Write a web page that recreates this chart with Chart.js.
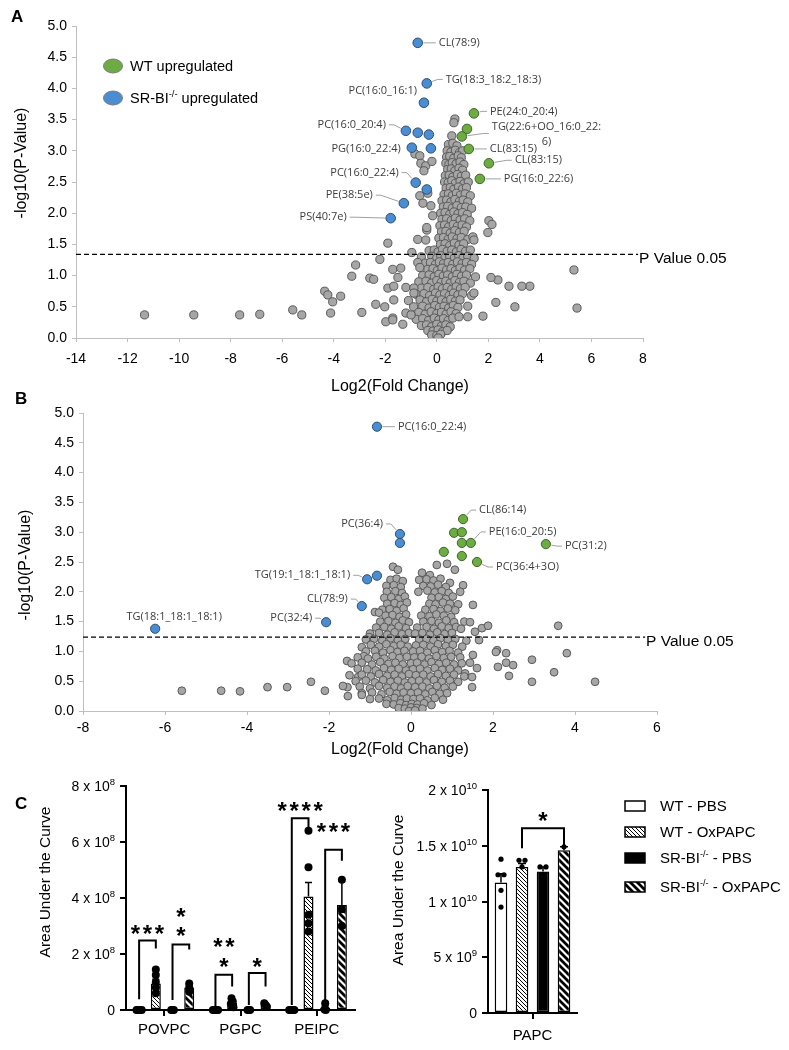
<!DOCTYPE html>
<html><head><meta charset="utf-8">
<script src="https://cdn.jsdelivr.net/npm/chart.js@4.4.1/dist/chart.umd.min.js"></script>
<style>
html,body{margin:0;padding:0;background:#fff;}
#wrap{position:relative;width:789px;height:1050px;overflow:hidden;background:#fff;}
#wrap canvas{position:absolute;left:0;top:0;}
</style></head><body>
<div id="wrap">
<canvas id="cA" width="789" height="1050"></canvas>
<canvas id="cB" width="789" height="1050"></canvas>
<canvas id="cC1" width="789" height="1050"></canvas>
<canvas id="cC2" width="789" height="1050"></canvas>
</div>
<script>
// ---------------- Panel A data ----------------
const aXTicks = [-14,-12,-10,-8,-6,-4,-2,0,2,4,6,8];
const aYTicks = [0,0.5,1,1.5,2,2.5,3,3.5,4,4.5,5];
const aThreshold = 1.34;
const aThresholdEnd = 7.81;
const aBlue = [[-0.74,4.73],[-0.39,4.08],[-0.5,3.77],[-1.2,3.32],[-0.74,3.29],[-0.31,3.26],[-0.97,3.05],[-0.23,3.04],[-0.82,2.49],[-0.39,2.38],[-1.28,2.16],[-1.79,1.92]];
const aGreen = [[1.44,3.6],[1.17,3.35],[0.97,3.23],[1.24,3.03],[2.02,2.8],[1.67,2.55]];
const aGray = [
[0.7,3.51],[0.66,3.45],[0.58,3.24],
[0.45,3.1],[0.62,3.12],[0.78,3.08],
[0.4,3.0],[0.55,2.98],[0.72,3.01],[0.88,2.97],[1.0,3.0],
[0.38,2.9],[0.5,2.91],[0.66,2.88],[0.83,2.92],[0.95,2.89],
[0.35,2.8],[0.47,2.78],[0.6,2.81],[0.75,2.79],[0.9,2.82],[1.05,2.78],
[0.42,2.7],[0.56,2.71],[0.7,2.68],[0.86,2.72],[1.0,2.69],
[0.33,2.6],[0.48,2.61],[0.62,2.58],[0.8,2.62],[0.95,2.59],[1.12,2.61],
[0.3,2.5],[0.44,2.49],[0.58,2.52],[0.72,2.48],[0.9,2.51],[1.05,2.47],[1.22,2.5],
[0.36,2.4],[0.52,2.41],[0.66,2.38],[0.84,2.42],[1.0,2.39],[1.15,2.41],
[0.28,2.3],[0.45,2.31],[0.6,2.28],[0.76,2.32],[0.92,2.29],[1.1,2.31],[1.3,2.28],
[0.2,2.2],[0.38,2.21],[0.55,2.18],[0.7,2.22],[0.88,2.19],[1.02,2.21],[1.2,2.18],
[0.25,2.1],[0.42,2.11],[0.6,2.08],[0.78,2.12],[0.95,2.09],[1.12,2.1],[1.35,2.08],
[0.15,2.0],[0.32,2.01],[0.5,1.98],[0.66,2.02],[0.82,1.99],[1.0,2.01],[1.18,1.98],
[0.2,1.9],[0.38,1.91],[0.56,1.88],[0.72,1.92],[0.9,1.89],[1.08,1.91],[1.28,1.88],
[0.12,1.8],[0.3,1.81],[0.46,1.78],[0.64,1.82],[0.8,1.79],[0.98,1.81],[1.15,1.78],
[0.18,1.7],[0.35,1.71],[0.52,1.68],[0.7,1.72],[0.88,1.69],[1.06,1.71],
[0.08,1.6],[0.26,1.61],[0.44,1.58],[0.6,1.62],[0.78,1.59],[0.95,1.61],[1.2,1.58],[1.4,1.62],
[0.14,1.5],[0.32,1.51],[0.5,1.48],[0.68,1.52],[0.86,1.49],[1.04,1.51],
[-0.3,1.4],[-0.1,1.41],[0.05,1.38],[0.22,1.42],[0.4,1.39],[0.58,1.41],[0.76,1.38],[0.94,1.42],[1.12,1.39],[1.3,1.41],
[-0.6,1.3],[-0.2,1.31],[0.0,1.28],[0.15,1.32],[0.32,1.29],[0.5,1.31],[0.68,1.28],[0.85,1.32],[1.02,1.29],[1.2,1.31],[1.45,1.28],
[-0.45,1.2],[-0.25,1.21],[-0.05,1.18],[0.1,1.22],[0.26,1.19],[0.44,1.21],[0.62,1.18],[0.8,1.22],[0.98,1.19],[1.15,1.21],[1.35,1.18],
[-0.35,1.1],[-0.15,1.11],[0.02,1.08],[0.2,1.12],[0.38,1.09],[0.55,1.11],[0.72,1.08],[0.9,1.12],[1.08,1.09],[1.28,1.11],
[-0.55,1.0],[-0.3,1.01],[-0.1,0.98],[0.08,1.02],[0.25,0.99],[0.42,1.01],[0.6,0.98],[0.78,1.02],[0.96,0.99],[1.15,1.01],[1.5,0.98],
[-0.7,0.9],[-0.42,0.91],[-0.2,0.88],[0.0,0.92],[0.17,0.89],[0.35,0.91],[0.52,0.88],[0.7,0.92],[0.88,0.89],[1.05,0.91],[1.3,0.88],
[-0.6,0.8],[-0.35,0.81],[-0.12,0.78],[0.05,0.82],[0.22,0.79],[0.4,0.81],[0.58,0.78],[0.75,0.82],[0.92,0.79],[1.1,0.81],
[-0.8,0.7],[-0.5,0.71],[-0.28,0.68],[-0.05,0.72],[0.12,0.69],[0.3,0.71],[0.48,0.68],[0.65,0.72],[0.82,0.69],[1.0,0.71],[1.35,0.68],
[-1.1,0.6],[-0.65,0.61],[-0.4,0.58],[-0.18,0.62],[0.0,0.59],[0.18,0.61],[0.36,0.58],[0.54,0.62],[0.72,0.59],[0.9,0.61],
[-0.9,0.5],[-0.55,0.51],[-0.3,0.48],[-0.08,0.52],[0.1,0.49],[0.28,0.51],[0.46,0.48],[0.64,0.52],[0.82,0.49],[1.2,0.51],
[-1.2,0.4],[-0.7,0.41],[-0.45,0.38],[-0.22,0.42],[0.0,0.39],[0.18,0.41],[0.36,0.38],[0.55,0.42],[0.75,0.39],
[-0.8,0.3],[-0.55,0.31],[-0.32,0.28],[-0.1,0.32],[0.08,0.29],[0.26,0.31],[0.44,0.28],[0.62,0.32],
[-0.6,0.2],[-0.4,0.21],[-0.2,0.18],[0.0,0.22],[0.18,0.19],[0.35,0.21],[0.52,0.18],
[-0.35,0.12],[-0.15,0.11],[0.05,0.13],[0.22,0.1],[0.4,0.12],
[-0.2,0.05],[0.0,0.04],[0.15,0.06],[0.05,0.0],
[-0.85,2.95],[-0.66,2.92],[-0.62,2.8],[-0.43,2.76],[-0.19,2.83],[-0.5,2.68],
[-0.35,2.32],[-0.66,2.28],[-0.54,2.16],[-0.23,2.12],[-0.16,1.96],[-0.39,1.73],[-0.97,1.37],[-0.74,1.58],[-0.39,1.77],[-0.43,1.57],
[-0.74,1.21],[-0.66,1.13],[-1.71,1.1],[-1.4,1.12],[-1.9,1.52],[-1.51,0.97],[-1.9,0.8],[-1.2,0.81],[-0.89,0.8],[-0.89,0.72],
[-1.0,0.37],[-1.32,0.22],[-1.71,0.32],[-2.02,0.5],[-1.98,0.26],
[-11.34,0.37],[-9.43,0.37],[-7.65,0.37],[-6.87,0.38],[-5.59,0.45],[-5.24,0.37],[-4.35,0.75],[-4.23,0.69],[-4.04,0.58],[-4.12,0.4],
[-3.73,0.67],[-3.3,0.99],[-3.15,1.17],[-2.91,0.41],[-2.6,0.96],[-2.45,0.94],[-2.37,0.54],[-2.21,1.26],[-1.67,0.83],[-1.71,0.29],[-1.67,0.61],
[5.32,1.09],[5.44,0.48],[3.03,0.5],[3.61,0.83],[3.3,0.83],[2.8,0.83],[2.37,0.93],[2.1,0.97],[2.29,0.57],[1.79,0.35],
[2.02,1.88],[2.14,1.82],[1.98,1.69],[1.44,1.57],[1.44,0.72],[1.2,0.34],[0.86,0.34]
];
const aLabels = [
 {t:'CL(78:9)', ds:0, i:0, dx:21, dy:0},
 {t:'TG(18:3_18:2_18:3)', ds:0, i:1, dx:19, dy:-4},
 {t:'PC(16:0_16:1)', ds:0, i:2, dx:-7, dy:-12, noLine:true},
 {t:'PC(16:0_20:4)', ds:0, i:3, dx:-20, dy:-6},
 {t:'PG(16:0_22:4)', ds:0, i:6, dx:-11, dy:1},
 {t:'PC(16:0_22:4)', ds:0, i:8, dx:-17, dy:-10},
 {t:'PE(38:5e)', ds:0, i:10, dx:-31, dy:-8},
 {t:'PS(40:7e)', ds:0, i:11, dx:-44, dy:-1},
 {t:'PE(24:0_20:4)', ds:1, i:0, dx:16, dy:-2},
 {t:'TG(22:6+OO_16:0_22:\n6)', ds:1, i:2, dx:30, dy:-10},
 {t:'CL(83:15)', ds:1, i:3, dx:21, dy:0},
 {t:'CL(83:15)', ds:1, i:4, dx:26, dy:-3},
 {t:'PG(16:0_22:6)', ds:1, i:5, dx:24, dy:0}
];
const aLegend = ['WT upregulated', 'SR-BI^{-/-} upregulated'];

// ---------------- Panel B data ----------------
const bXTicks = [-8,-6,-4,-2,0,2,4,6];
const bYTicks = [0,0.5,1,1.5,2,2.5,3,3.5,4,4.5,5];
const bThreshold = 1.24;
const bThresholdEnd = 5.71;
const bBlue = [[-0.83,4.77],[-0.27,2.97],[-0.27,2.82],[-0.83,2.27],[-1.07,2.21],[-1.2,1.76],[-2.07,1.49],[-6.24,1.38]];
const bGreen = [[1.27,3.22],[1.05,2.99],[1.24,3.0],[1.24,2.82],[1.46,2.82],[3.29,2.8],[0.8,2.67],[1.24,2.6],[1.61,2.5]];
const bGray = [
[-0.44,2.42],[-0.32,2.37],[0.27,2.32],[0.46,2.28],[0.63,2.45],[0.88,2.47],[1.07,2.37],
[-0.5,2.2],[-0.35,2.22],[-0.2,2.18],[0.2,2.2],[0.38,2.21],[0.55,2.19],[0.72,2.22],[0.95,2.15],
[-0.6,2.1],[-0.42,2.11],[-0.25,2.08],[0.3,2.1],[0.48,2.09],[0.66,2.12],[0.85,2.08],[1.27,2.11],
[-0.59,2.0],[-0.38,2.01],[-0.22,1.98],[0.18,2.0],[0.4,2.02],[0.58,1.99],[0.75,2.01],[0.92,1.98],[1.2,2.0],
[-0.65,1.9],[-0.48,1.91],[-0.3,1.88],[-0.15,1.92],[0.5,1.9],[0.68,1.91],[0.85,1.88],[1.02,1.92],
[-0.58,1.8],[-0.4,1.81],[-0.25,1.78],[-0.1,1.82],[0.45,1.8],[0.6,1.79],[0.78,1.82],[0.95,1.8],[1.15,1.79],[1.51,1.78],
[-0.7,1.7],[-0.52,1.71],[-0.35,1.68],[-0.18,1.72],[0.35,1.7],[0.55,1.71],[0.72,1.68],[0.9,1.72],[1.08,1.69],
[-0.88,1.66],[-0.78,1.65],
[-0.62,1.6],[-0.45,1.61],[-0.28,1.58],[-0.12,1.62],[0.25,1.6],[0.45,1.59],[0.62,1.62],[0.8,1.6],[0.98,1.58],
[-0.75,1.5],[-0.55,1.51],[-0.38,1.48],[-0.2,1.52],[-0.05,1.49],[0.3,1.5],[0.5,1.51],[0.68,1.48],[0.86,1.52],[1.05,1.49],[1.3,1.5],[1.44,1.49],
[-0.85,1.4],[-0.65,1.41],[-0.48,1.38],[-0.3,1.42],[-0.12,1.39],[0.15,1.4],[0.38,1.41],[0.56,1.38],[0.75,1.42],[0.92,1.39],[1.1,1.41],[1.22,1.38],[1.56,1.33],[1.73,1.39],[1.88,1.43],
[-1.0,1.3],[-0.78,1.31],[-0.58,1.28],[-0.4,1.32],[-0.22,1.29],[-0.05,1.31],[0.1,1.3],[0.28,1.31],[0.46,1.28],[0.64,1.32],[0.82,1.29],[1.0,1.31],
[-1.02,1.24],[-1.1,1.2],[-0.9,1.21],[-0.7,1.18],[-0.5,1.22],[-0.32,1.19],[-0.14,1.21],[0.2,1.2],[0.38,1.21],[0.55,1.18],[0.72,1.22],[0.9,1.19],[1.08,1.21],[1.35,1.18],[1.66,1.19],
[-1.2,1.07],[-0.98,1.11],[-0.78,1.08],[-0.6,1.12],[-0.42,1.09],[-0.25,1.11],[-0.08,1.08],[0.12,1.1],[0.3,1.11],[0.48,1.08],[0.66,1.12],[0.85,1.09],[1.02,1.11],[1.25,1.08],
[-1.1,1.0],[-0.88,1.01],[-0.68,0.98],[-0.5,1.02],[-0.33,0.99],[-0.16,1.01],[0.05,1.0],[0.22,1.01],[0.4,0.98],[0.58,1.02],[0.76,0.99],[0.94,1.01],[1.15,0.98],[2.1,1.02],[2.32,0.97],
[-1.15,0.92],[-1.3,0.9],[-1.05,0.88],[-0.85,0.91],[-0.65,0.88],[-0.45,0.92],[-0.28,0.89],[-0.1,0.91],[0.08,0.9],[0.26,0.91],[0.44,0.88],[0.62,0.92],[0.8,0.89],[0.98,0.91],[1.2,0.9],[1.51,0.94],
[-1.56,0.84],[-1.45,0.8],[-1.2,0.81],[-0.95,0.78],[-0.75,0.82],[-0.55,0.79],[-0.38,0.81],[-0.2,0.78],[0.0,0.8],[0.15,0.81],[0.33,0.78],[0.5,0.82],[0.68,0.79],[0.86,0.81],[1.05,0.78],[1.24,0.8],[1.44,0.81],
[-1.07,0.7],[-1.3,0.71],[-0.86,0.68],[-0.66,0.72],[-0.48,0.69],[-0.3,0.71],[-0.12,0.68],[0.05,0.7],[0.22,0.71],[0.4,0.68],[0.58,0.72],[0.76,0.69],[0.95,0.71],[1.15,0.68],[1.61,0.72],[1.32,0.63],
[-1.5,0.6],[-1.29,0.57],[-1.2,0.61],[-0.98,0.58],[-0.78,0.62],[-0.58,0.59],[-0.4,0.61],[-0.22,0.58],[-0.05,0.62],[0.12,0.6],[0.3,0.61],[0.48,0.58],[0.66,0.62],[0.85,0.59],[1.05,0.61],[1.3,0.58],[1.49,0.57],
[-1.35,0.5],[-1.1,0.51],[-0.88,0.48],[-0.68,0.52],[-0.5,0.49],[-0.32,0.51],[-0.15,0.48],[0.02,0.5],[0.2,0.51],[0.38,0.48],[0.56,0.52],[0.75,0.49],[0.95,0.51],[1.15,0.49],
[-1.55,0.4],[-1.25,0.41],[-1.0,0.38],[-0.78,0.42],[-0.58,0.39],[-0.4,0.41],[-0.24,0.38],[-0.08,0.42],[0.1,0.4],[0.28,0.41],[0.45,0.38],[0.63,0.42],[0.82,0.39],[1.02,0.41],[1.49,0.4],
[-1.2,0.3],[-0.95,0.31],[-0.72,0.28],[-0.52,0.32],[-0.35,0.29],[-0.18,0.31],[0.0,0.3],[0.17,0.31],[0.35,0.28],[0.52,0.32],[0.7,0.29],[0.88,0.3],[-1.2,0.27],
[-1.0,0.2],[-0.78,0.21],[-0.58,0.18],[-0.4,0.22],[-0.24,0.19],[-0.1,0.21],[0.06,0.2],[0.22,0.21],[0.4,0.18],[0.58,0.22],[0.78,0.19],
[-0.6,0.12],[-0.42,0.11],[-0.26,0.13],[-0.12,0.1],[0.02,0.12],[0.16,0.11],[0.32,0.13],[0.5,0.1],
[-0.3,0.05],[-0.15,0.04],[0.0,0.06],[0.14,0.05],[0.28,0.04],[-0.05,0.0],[0.1,0.01],
[-5.59,0.34],[-4.63,0.34],[-4.17,0.33],[-3.5,0.4],[-3.02,0.4],[-2.44,0.49],[-2.1,0.34],[-1.66,0.42],[-1.54,0.25],
[3.59,1.43],[3.8,0.97],[4.49,0.49],[3.49,0.65],[2.95,0.86],[2.95,0.49],[2.39,0.59],[2.32,0.81],[2.49,0.77],[2.12,0.74],[2.07,0.99]
];
const bLabels = [
 {t:'PC(16:0_22:4)', ds:0, i:0, dx:21, dy:0},
 {t:'PC(36:4)', ds:0, i:1, dx:-17, dy:-10},
 {t:'TG(19:1_18:1_18:1)', ds:0, i:4, dx:-17, dy:-4},
 {t:'CL(78:9)', ds:0, i:5, dx:-14, dy:-7},
 {t:'PC(32:4)', ds:0, i:6, dx:-14, dy:-4},
 {t:'TG(18:1_18:1_18:1)', ds:0, i:7, dx:19, dy:-12, align:'center', noLine:true},
 {t:'CL(86:14)', ds:1, i:0, dx:16, dy:-9},
 {t:'PE(16:0_20:5)', ds:1, i:4, dx:18, dy:-11},
 {t:'PC(31:2)', ds:1, i:5, dx:19, dy:2},
 {t:'PC(36:4+3O)', ds:1, i:8, dx:19, dy:5}
];

// ---------------- Panel C data ----------------
const cCats = ['POVPC','PGPC','PEIPC'];
const cGroups = ['WT - PBS','WT - OxPAPC','SR-BI^{-/-} - PBS','SR-BI^{-/-} - OxPAPC'];
const cYTicks = [0,2e8,4e8,6e8,8e8];
const cYTickLabels = ['0','2 x 10^{8}','4 x 10^{8}','6 x 10^{8}','8 x 10^{8}'];
const wtPbsMean = [0.005e8,0.005e8,0.005e8];
const wtOxMean  = [0.95e8,0.25e8,4.05e8];
const srPbsMean = [0.005e8,0.005e8,0.08e8];
const srOxMean  = [0.8e8,0.18e8,3.75e8];
const wtPbsSem = [0,0,0];
const wtOxSem  = [0.15e8,0.05e8,0.5e8];
const srPbsSem = [0,0,0.06e8];
const srOxSem  = [0.12e8,0.03e8,0.9e8];
const wtPbsDots = [[0,0,0,0,0],[0,0,0,0,0],[0,0,0,0,0]];
const wtOxDots  = [[1.45e8,1.25e8,1.0e8,0.8e8,0.6e8],[0.42e8,0.3e8,0.22e8,0.15e8,0.1e8],[6.4e8,5.1e8,3.4e8,3.1e8,2.8e8]];
const srPbsDots = [[0,0,0],[0,0,0],[0.24e8,0.02e8,0]];
const srOxDots  = [[0.95e8,0.8e8,0.65e8],[0.24e8,0.18e8,0.12e8],[4.65e8,3.6e8,3.0e8]];
const cBrackets = [
 {cat:0,a:0,b:1,top:2.48e8,aEnd:0.38e8,bEnd:2.2e8,stars:['***'],starY:[2.87e8]},
 {cat:0,a:2,b:3,top:2.34e8,aEnd:0.36e8,bEnd:2.16e8,stars:['*','*'],starY:[3.5e8,2.81e8]},
 {cat:1,a:0,b:1,top:1.26e8,aEnd:0.12e8,bEnd:0.84e8,stars:['**','*'],starY:[2.42e8,1.7e8]},
 {cat:1,a:2,b:3,top:1.32e8,aEnd:0.18e8,bEnd:0.84e8,stars:['*'],starY:[1.68e8]},
 {cat:2,a:0,b:1,top:6.85e8,aEnd:0.18e8,bEnd:6.53e8,stars:['****'],starY:[7.28e8]},
 {cat:2,a:2,b:3,top:5.72e8,aEnd:0.36e8,bEnd:5.33e8,stars:['***'],starY:[6.53e8]}
];
const papcCats = ['PAPC'];
const papcYTicks = [0,5e9,1e10,1.5e10,2e10];
const papcYTickLabels = ['0','5 x 10^{9}','1 x 10^{10}','1.5 x 10^{10}','2 x 10^{10}'];
const papcMean = [1.17e10,1.31e10,1.27e10,1.46e10];
const papcSem  = [0.08e10,0.03e10,0.04e10,0.03e10];
const papcDots = [[1.38e10,1.24e10,1.24e10,1.10e10,0.95e10],[1.37e10,1.37e10,1.31e10],[1.31e10,1.31e10],[1.49e10]];
const papcBrackets = [{cat:0,a:1,b:3,top:1.657e10,aEnd:1.478e10,bEnd:1.507e10,stars:['*'],starY:[1.76e10]}];

// ---------------- styling / helpers ----------------
const FONT = "'Liberation Sans', Arial, sans-serif";
const LBL = "'Open Sans', 'Liberation Sans', sans-serif";
const BLUE = '#4a8dd2', BLUE_B = '#2e4e70';
const GREEN = '#6dac42', GREEN_B = '#3d6427';
const GRAY = '#a6a6a6', GRAY_B = '#595959';
const W = 789, H = 1050;

function richParts(s){
  const parts=[]; const re=/\^\{([^}]*)\}/g; let last=0,m;
  while((m=re.exec(s))){ if(m.index>last) parts.push({t:s.slice(last,m.index),sup:false}); parts.push({t:m[1],sup:true}); last=re.lastIndex; }
  if(last<s.length) parts.push({t:s.slice(last),sup:false});
  return parts;
}
function drawRich(ctx,s,x,y,size,opts){
  opts=opts||{};
  const fam=opts.family||FONT, wt=opts.weight||'normal', align=opts.align||'left';
  const supSize=size*(opts.supRatio||0.65);
  const fN=wt+' '+size+'px '+fam, fS=wt+' '+supSize+'px '+fam;
  const parts=richParts(s); let w=0;
  parts.forEach(p=>{ctx.font=p.sup?fS:fN; p.w=ctx.measureText(p.t).width; w+=p.w;});
  let cx = align==='right'? x-w : align==='center'? x-w/2 : x;
  ctx.fillStyle=opts.color||'#000'; ctx.textAlign='left'; ctx.textBaseline='alphabetic';
  const base=y+size*0.36;
  parts.forEach(p=>{ctx.font=p.sup?fS:fN; ctx.fillText(p.t,cx,p.sup?base-size*0.42:base); cx+=p.w;});
}
function drawRotated(ctx,s,x,y,size){
  ctx.save(); ctx.translate(x,y); ctx.rotate(-Math.PI/2);
  drawRich(ctx,s,0,0,size,{align:'center'}); ctx.restore();
}
function makePattern(s,lw){
  const c=document.createElement('canvas'); c.width=s; c.height=s;
  const g=c.getContext('2d'); g.fillStyle='#fff'; g.fillRect(0,0,s,s);
  g.strokeStyle='#000'; g.lineWidth=lw; g.beginPath();
  for(let k=-1;k<=1;k++){ g.moveTo(k*s-1,-1); g.lineTo(k*s+s+1,s+1); }
  g.stroke();
  return document.getElementById('cC1').getContext('2d').createPattern(c,'repeat');
}
const thinPat = makePattern(4,1);
const thickPat = makePattern(7,2.8);
const FILLS = ['#fff', thinPat, '#000', thickPat];

function drawLabels(chart,list,r){
  const ctx=chart.ctx; ctx.save();
  ctx.font='11px '+LBL; ctx.textBaseline='middle';
  list.forEach(a=>{
    const el=chart.getDatasetMeta(a.ds).data[a.i];
    const px=el.x, py=el.y;
    const lines=a.t.split('\n');
    const align=a.align||(a.dx>=0?'left':'right');
    const lx=px+a.dx, ly=py+a.dy;
    const w0=ctx.measureText(lines[0]).width;
    const x0= align==='left'? lx : align==='right'? lx-w0 : lx-w0/2;
    ctx.fillStyle='#3c3c3c'; ctx.textAlign='left';
    lines.forEach((ln,k)=>{ const w=ctx.measureText(ln).width; ctx.fillText(ln, k? x0+(w0-w)/2 : x0, ly+k*15); });
    if(!a.noLine){
      const ay=ly+(lines.length-1)*7;
      const sx= align==='left'? lx-3 : lx+3;
      const mx= align==='left'? lx-8 : lx+8;
      const dxm=mx-px, dym=ay-py, d=Math.hypot(dxm,dym);
      if(d>r+2){
        const ex=px+dxm*(r+1)/d, ey=py+dym*(r+1)/d;
        ctx.strokeStyle='#a0a0a0'; ctx.lineWidth=1; ctx.beginPath();
        ctx.moveTo(sx,ay); ctx.lineTo(mx,ay); ctx.lineTo(ex,ey); ctx.stroke();
      }
    }
  });
  ctx.restore();
}

function makeVolcano(id,d){
  const yW=50, xH=40, ar=d.area;
  const pts=a=>a.map(p=>({x:p[0],y:p[1]}));
  return new Chart(document.getElementById(id),{
    type:'scatter',
    data:{datasets:[
      {data:pts(d.blue),backgroundColor:BLUE,borderColor:BLUE_B,borderWidth:1,pointRadius:d.rC,order:1},
      {data:pts(d.green),backgroundColor:GREEN,borderColor:GREEN_B,borderWidth:1,pointRadius:d.rC,order:1},
      {data:pts(d.gray),backgroundColor:GRAY,borderColor:GRAY_B,borderWidth:1,pointRadius:d.rG,order:2},
      {type:'line',data:[{x:d.xTicks[0],y:d.thr},{x:d.thrEnd,y:d.thr}],borderColor:'#000',borderWidth:1.3,borderDash:[5,3],pointRadius:0,fill:false,order:0}
    ]},
    options:{
      responsive:false, animation:false, devicePixelRatio:1, events:[],
      layout:{padding:{left:ar.left-yW, top:ar.top, right:W-ar.right, bottom:H-ar.bottom-xH}},
      plugins:{legend:{display:false},tooltip:{enabled:false}},
      scales:{
        x:{type:'linear',min:d.xTicks[0],max:d.xTicks[d.xTicks.length-1],
           afterBuildTicks:s=>{s.ticks=d.xTicks.map(v=>({value:v}));},
           ticks:{font:{family:FONT,size:14},color:'#000',padding:d.xPad,callback:v=>String(v),maxRotation:0,autoSkip:false},
           grid:{drawOnChartArea:false,drawTicks:true,tickLength:4,color:'#bfbfbf'},
           border:{color:'#bfbfbf'}, afterFit:s=>{s.height=xH;}},
        y:{type:'linear',min:0,max:5,
           afterBuildTicks:s=>{s.ticks=d.yTicks.map(v=>({value:v}));},
           ticks:{font:{family:FONT,size:14},color:'#000',padding:5,callback:v=>Number(v).toFixed(1),autoSkip:false},
           grid:{drawOnChartArea:false,drawTicks:true,tickLength:4,color:'#bfbfbf'},
           border:{color:'#bfbfbf'}, afterFit:s=>{s.width=yW;}}
      }
    },
    plugins:[{id:'extras',afterDraw(ch){
      const ctx=ch.ctx;
      drawLabels(ch,d.labels,d.rC);
      const lm=ch.getDatasetMeta(3).data[1];
      drawRich(ctx,'P Value 0.05',lm.x+1,lm.y+3,15.5,{});
      drawRich(ctx,'Log2(Fold Change)',400,d.xTitleY,16,{align:'center'});
      drawRotated(ctx,'-log10(P-Value)',d.yTitleX,d.yTitleY,16);
      drawRich(ctx,d.letter,d.letterX,d.letterY,17,{weight:'bold'});
      if(d.legend){
        const cols=[[GREEN,GREEN_B],[BLUE,BLUE_B]];
        d.legend.forEach((t,k)=>{
          const y=66+k*32;
          ctx.beginPath(); ctx.ellipse(113,y,9.5,7,0,0,Math.PI*2);
          ctx.fillStyle=cols[k][0]; ctx.fill(); ctx.strokeStyle='#7a7a7a'; ctx.lineWidth=1; ctx.stroke();
          drawRich(ctx,t,130,y,14.5,{});
        });
      }
    }}]
  });
}

makeVolcano('cA',{blue:aBlue,green:aGreen,gray:aGray,thr:aThreshold,thrEnd:aThresholdEnd,xTicks:aXTicks,yTicks:aYTicks,
  area:{left:76,right:643,top:26,bottom:338},rC:4.8,rG:4.1,labels:aLabels,legend:aLegend,xPad:9,
  xTitleY:385,yTitleX:20,yTitleY:163,letter:'A',letterX:11,letterY:16});
makeVolcano('cB',{blue:bBlue,green:bGreen,gray:bGray,thr:bThreshold,thrEnd:bThresholdEnd,xTicks:bXTicks,yTicks:bYTicks,
  area:{left:83,right:657,top:413,bottom:711},rC:4.6,rG:3.9,labels:bLabels,legend:null,xPad:5,
  xTitleY:748,yTitleX:24,yTitleY:565,letter:'B',letterX:15,letterY:398});

function drawStars(ctx,str,cx,cy){
  ctx.font='bold 24px '+FONT; ctx.fillStyle='#000'; ctx.textAlign='center'; ctx.textBaseline='alphabetic';
  const m=ctx.measureText('*');
  const base=cy+(m.actualBoundingBoxAscent-m.actualBoundingBoxDescent)/2;
  const n=str.length, pitch=12;
  for(let k=0;k<n;k++) ctx.fillText('*',cx+(k-(n-1)/2)*pitch,base);
}

function makeBars(id,cfg){
  const yW=60, xH=32, ar=cfg.area;
  return new Chart(document.getElementById(id),{
    type:'bar',
    data:{labels:cfg.cats,datasets:cfg.means.map((m,k)=>({label:cGroups[k],data:m,backgroundColor:FILLS[k],borderColor:'#000',borderWidth:1.5,borderSkipped:false,categoryPercentage:cfg.catPct,barPercentage:cfg.barPct}))},
    options:{
      responsive:false, animation:false, devicePixelRatio:1, events:[],
      layout:{padding:{left:ar.left-yW, top:ar.top, right:W-ar.right, bottom:H-ar.bottom-xH}},
      plugins:{legend:{display:false},tooltip:{enabled:false}},
      scales:{
        x:{grid:{offset:false,drawOnChartArea:false,drawTicks:true,tickLength:6,color:'#000',lineWidth:2},
           border:{color:'#000',width:2},ticks:{font:{family:FONT,size:15},color:'#000',padding:cfg.xPad,maxRotation:0},
           afterFit:s=>{s.height=xH;}},
        y:{min:0,max:cfg.yTicks[cfg.yTicks.length-1],
           afterBuildTicks:s=>{s.ticks=cfg.yTicks.map(v=>({value:v}));},
           grid:{drawOnChartArea:false,drawTicks:true,tickLength:6,color:'#000',lineWidth:2},
           border:{color:'#000',width:2},ticks:{display:false},afterFit:s=>{s.width=yW;}}
      }
    },
    plugins:[{id:'extras',afterDatasetsDraw(ch){
      const ctx=ch.ctx, ys=ch.scales.y;
      ctx.save();
      ctx.strokeStyle='#000'; ctx.lineWidth=1.5;
      cfg.means.forEach((m,k)=>{
        const meta=ch.getDatasetMeta(k);
        m.forEach((v,i)=>{
          const s=cfg.sems[k][i]; if(!s) return;
          const el=meta.data[i]; const yt=ys.getPixelForValue(v+s);
          ctx.beginPath(); ctx.moveTo(el.x,el.y); ctx.lineTo(el.x,yt);
          ctx.moveTo(el.x-cfg.cap,yt); ctx.lineTo(el.x+cfg.cap,yt); ctx.stroke();
        });
      });
      ctx.fillStyle='#000';
      cfg.dots.forEach((byCat,k)=>{
        const meta=ch.getDatasetMeta(k);
        byCat.forEach((vals,i)=>{
          const el=meta.data[i];
          const py=vals.map(v=>ys.getPixelForValue(v)).sort((p,q)=>p-q);
          const groups=[]; py.forEach(p=>{const g=groups[groups.length-1]; if(g&&p-g[0]<cfg.dotR) g.push(p); else groups.push([p]);});
          groups.forEach(g=>g.forEach((p,j)=>{
            const x=el.x+(j-(g.length-1)/2)*cfg.dotSp;
            ctx.beginPath(); ctx.arc(x,p,cfg.dotR,0,Math.PI*2); ctx.fill();
          }));
        });
      });
      ctx.lineWidth=2; ctx.strokeStyle='#000';
      cfg.brackets.forEach(b=>{
        const xa=ch.getDatasetMeta(b.a).data[b.cat].x, xb=ch.getDatasetMeta(b.b).data[b.cat].x;
        const yt=ys.getPixelForValue(b.top);
        ctx.beginPath(); ctx.moveTo(xa,ys.getPixelForValue(b.aEnd)); ctx.lineTo(xa,yt); ctx.lineTo(xb,yt); ctx.lineTo(xb,ys.getPixelForValue(b.bEnd)); ctx.stroke();
        b.stars.forEach((s,j)=>drawStars(ctx,s,(xa+xb)/2,ys.getPixelForValue(b.starY[j])));
      });
      ctx.restore();
    },afterDraw(ch){
      const ctx=ch.ctx, ys=ch.scales.y;
      cfg.yTicks.forEach((v,k)=>drawRich(ctx,cfg.yLabels[k],ar.left-11,ys.getPixelForValue(v),14,{supRatio:0.68,align:'right'}));
      drawRotated(ctx,'Area Under the Curve',cfg.yTitleX,cfg.yTitleY,15.5);
      if(cfg.letter) drawRich(ctx,cfg.letter,15,803,17,{weight:'bold'});
      if(cfg.legend){
        const rows=[806,832,858,887];
        cGroups.forEach((t,k)=>{
          ctx.fillStyle=FILLS[k]; ctx.fillRect(625,rows[k]-5,20,10);
          ctx.strokeStyle='#000'; ctx.lineWidth=1.5; ctx.strokeRect(625,rows[k]-5,20,10);
          drawRich(ctx,t,660,rows[k],15,{supRatio:0.6});
        });
      }
    }}]
  });
}

makeBars('cC1',{cats:cCats,means:[wtPbsMean,wtOxMean,srPbsMean,srOxMean],sems:[wtPbsSem,wtOxSem,srPbsSem,srOxSem],
  dots:[wtPbsDots,wtOxDots,srPbsDots,srOxDots],brackets:cBrackets,yTicks:cYTicks,yLabels:cYTickLabels,
  area:{left:126,right:355,top:786,bottom:1010},catPct:0.875,barPct:0.6,cap:3.5,dotR:4,dotSp:1.3,xPad:5,
  yTitleX:44,yTitleY:882,letter:'C',legend:false});
makeBars('cC2',{cats:papcCats,means:papcMean.map(v=>[v]),sems:papcSem.map(v=>[v]),
  dots:papcDots.map(v=>[v]),brackets:papcBrackets,yTicks:papcYTicks,yLabels:papcYTickLabels,
  area:{left:488,right:577,top:790,bottom:1013},catPct:0.944,barPct:0.6,cap:4,dotR:2.6,dotSp:6,xPad:8,
  yTitleX:397,yTitleY:890,letter:null,legend:true});
</script></body></html>
